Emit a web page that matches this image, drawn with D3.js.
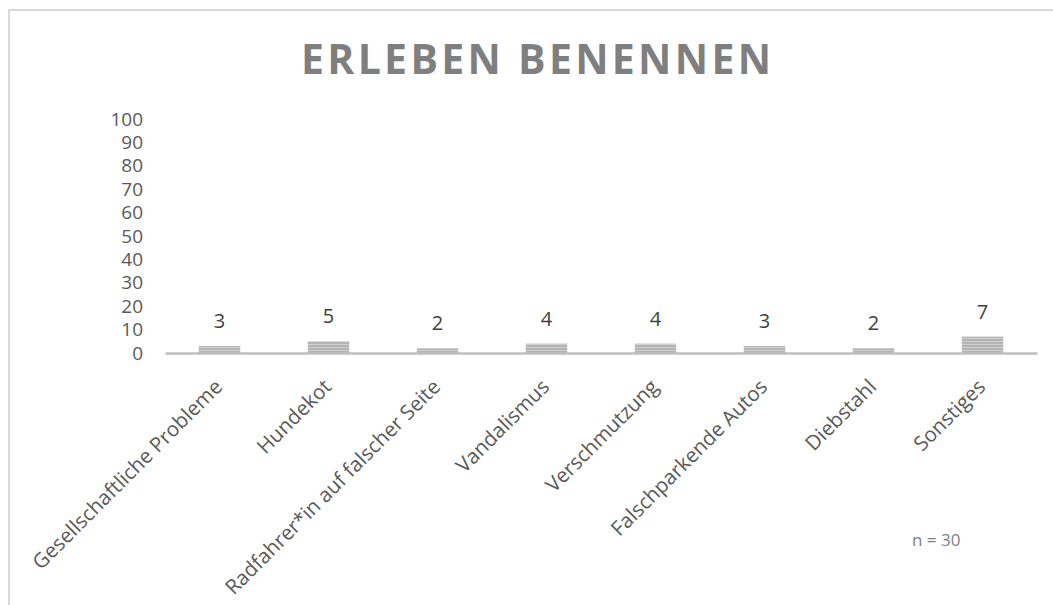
<!DOCTYPE html>
<meta charset="utf-8">
<style>
body { margin: 0; background: #fff; }
text { font-family: 'Open Sans', sans-serif; }
</style>
<body>
<div class="viz"></div>
<script src="https://d3js.org/d3.v7.min.js"></script>
<script>
// chart data
const categories = ["Gesellschaftliche Probleme", "Hundekot", "Radfahrer*in auf falscher Seite",
  "Vandalismus", "Verschmutzung", "Falschparkende Autos", "Diebstahl", "Sonstiges"];
const counts = [3, 5, 2, 4, 4, 3, 2, 7];
const yTicks = [0, 10, 20, 30, 40, 50, 60, 70, 80, 90, 100];
const title = "ERLEBEN BENENNEN";
const note = "n = 30";

const W = 1053, H = 605;

const svg = d3.select(".viz").append("svg")
    .attr("width", W)
    .attr("height", H);

// chart frame
svg.append("rect")
    .attr("x", 9).attr("y", 10)
    .attr("width", W + 10).attr("height", H + 10)
    .attr("fill", "none")
    .attr("stroke", "#d9d9d9")
    .attr("stroke-width", 2);

const defs = svg.append("defs");
const pat = defs.append("pattern")
    .attr("id", "stripes")
    .attr("patternUnits", "userSpaceOnUse")
    .attr("width", 8).attr("height", 3);
pat.append("rect").attr("width", 8).attr("height", 3).attr("fill", "#b4b4b4");
pat.append("rect").attr("y", 2).attr("width", 8).attr("height", 1).attr("fill", "#cfcfcf");

const x = d3.scaleBand()
    .domain(categories)
    .range([165, 1037])
    .paddingInner(0.62)
    .paddingOuter(0.31);

const y = d3.scaleLinear()
    .domain([0, 100])
    .range([353, 119]);

// title
svg.append("text")
    .attr("x", 536)
    .attr("y", 74)
    .attr("text-anchor", "middle")
    .attr("textLength", 470)
    .attr("lengthAdjust", "spacing")
    .style("font-size", "41px")
    .style("font-weight", "bold")
    .style("fill", "#7f7f7f")
    .text(title);

// y axis (labels only)
const yAxis = svg.append("g")
    .attr("transform", "translate(143,0)")
    .call(d3.axisLeft(y).tickValues(yTicks).tickSize(0).tickPadding(0));
yAxis.select(".domain").remove();
yAxis.selectAll("text")
    .style("font-size", "19px")
    .style("font-family", "'Open Sans', sans-serif")
    .attr("fill", "#595959");

// bars
svg.selectAll(".bar")
    .data(counts)
    .enter()
    .append("rect")
    .attr("class", "bar")
    .attr("x", (d, i) => x(categories[i]))
    .attr("y", d => y(d))
    .attr("width", x.bandwidth())
    .attr("height", d => y(0) - y(d))
    .attr("fill", "url(#stripes)");

// value labels
svg.selectAll(".val")
    .data(counts)
    .enter()
    .append("text")
    .attr("class", "val")
    .attr("x", (d, i) => x(categories[i]) + x.bandwidth() / 2)
    .attr("y", d => y(d) - 25)
    .attr("dy", "0.35em")
    .attr("text-anchor", "middle")
    .style("font-size", "20px")
    .style("fill", "#404040")
    .text(d => d);

// x axis line
const xAxis = svg.append("g")
    .attr("transform", "translate(0," + y(0) + ")")
    .call(d3.axisBottom(x).tickSize(0).tickSizeOuter(0).tickPadding(0));
xAxis.select(".domain")
    .attr("stroke", "#bfbfbf")
    .attr("stroke-width", 2.5);
xAxis.selectAll("text")
    .style("font-size", "20.5px")
    .style("font-family", "'Open Sans', sans-serif")
    .attr("fill", "#595959")
    .attr("text-anchor", "end")
    .attr("dy", "0.35em")
    .attr("transform", "translate(-1,30) rotate(-45)");

svg.append("text")
    .attr("x", 912)
    .attr("y", 546)
    .style("font-size", "17px")
    .style("fill", "#7f7f7f")
    .text(note);
</script>
</body>
